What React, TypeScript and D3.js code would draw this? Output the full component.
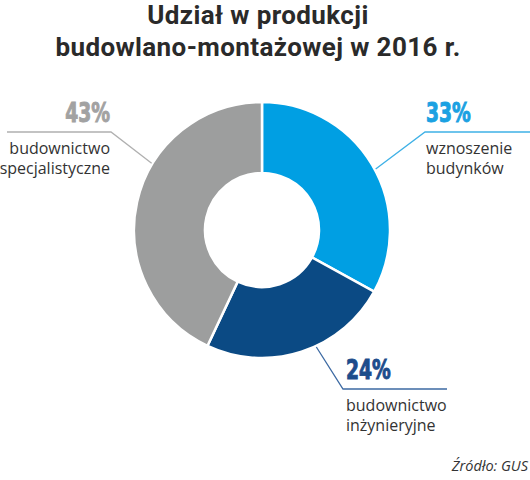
import React from 'react';
import * as d3 from 'd3';

// data
const categories = ['wznoszenie budynków', 'budownictwo inżynieryjne', 'budownictwo specjalistyczne'];
const values = [33, 24, 43];
const labelLines = [['wznoszenie', 'budynków'], ['budownictwo', 'inżynieryjne'], ['budownictwo', 'specjalistyczne']];
const sliceColors = ['#009fe3', '#0b4a84', '#9d9e9e'];
const pctColors = ['#1ba1e2', '#1d4c8b', '#a2a2a2'];
const leaderColors = ['#3fb1e6', '#3d6aa3', '#b0b0b0'];

const titleLines = ['Udział w produkcji', 'budowlano-montażowej w 2016 r.'];
const source = 'Źródło: GUS';

const W = 530;
const H = 480;

export default function App() {
  const cx = 262;
  const cy = 230;
  const outerR = 128;
  const innerR = 57;

  const pie = d3.pie<number>().sort(null).value(d => d).startAngle(0).endAngle(2 * Math.PI);
  const arcs = pie(values);
  const arc = d3.arc<d3.PieArcDatum<number>>().innerRadius(innerR).outerRadius(outerR);

  // label layout: where along the slice the leader starts, elbow point, line end, text anchor
  const layout = [
    { t: 0.52, elbow: [425, 132], end: 530, anchor: 'start', tx: 426 },
    { t: 0.42, elbow: [343, 389], end: 447, anchor: 'start', tx: 346 },
    { t: 0.62, elbow: [111, 132], end: 7, anchor: 'end', tx: 110 },
  ];
  const squeeze = 0.8; // condensed look for the percentages

  return (
    <div style={{ position: 'absolute', left: 0, top: 0 }}>
      <svg width={W} height={H} style={{ display: 'block', background: '#fff' }}>
        {titleLines.map((t, i) => (
          <text key={i} x={258} y={24 + i * 32} textAnchor="middle"
            style={{ fontFamily: 'Roboto', fontWeight: 700, fontSize: 26, letterSpacing: 0.4, fill: '#2a2a2a' }}>
            {t}
          </text>
        ))}
        <g transform={`translate(${cx},${cy})`}>
          {arcs.map((a, i) => (
            <path key={categories[i]} d={arc(a) || ''} fill={sliceColors[i]} stroke="#fff" strokeWidth={2.5} />
          ))}
        </g>
        {arcs.map((a, i) => {
          const L = layout[i];
          const ang = a.startAngle + (a.endAngle - a.startAngle) * L.t;
          const sx = cx + (outerR + 1) * Math.sin(ang);
          const sy = cy - (outerR + 1) * Math.cos(ang);
          const [ex, ey] = L.elbow;
          return (
            <g key={i}>
              <polyline points={`${sx},${sy} ${ex},${ey} ${L.end},${ey}`} fill="none" stroke={leaderColors[i]} strokeWidth={1.3} />
              <g transform={`translate(${L.tx},${ey - 10}) scale(${squeeze},1)`}>
                <text x={0} y={0} textAnchor={L.anchor}
                  style={{ fontFamily: 'DejaVu Sans Condensed', fontWeight: 700, fontSize: 26, fill: pctColors[i], stroke: pctColors[i], strokeWidth: 0.9 }}>
                  {values[i]}%
                </text>
              </g>
              {labelLines[i].map((ln, j) => (
                <text key={j} x={L.tx} y={ey + 22 + j * 20} textAnchor={L.anchor}
                  style={{ fontFamily: 'Open Sans', fontSize: 16, fill: '#333' }}>
                  {ln}
                </text>
              ))}
            </g>
          );
        })}
        <text x={528} y={471} textAnchor="end"
          style={{ fontFamily: 'Open Sans', fontStyle: 'italic', fontSize: 14.5, fill: '#333' }}>
          {source}
        </text>
      </svg>
    </div>
  );
}
